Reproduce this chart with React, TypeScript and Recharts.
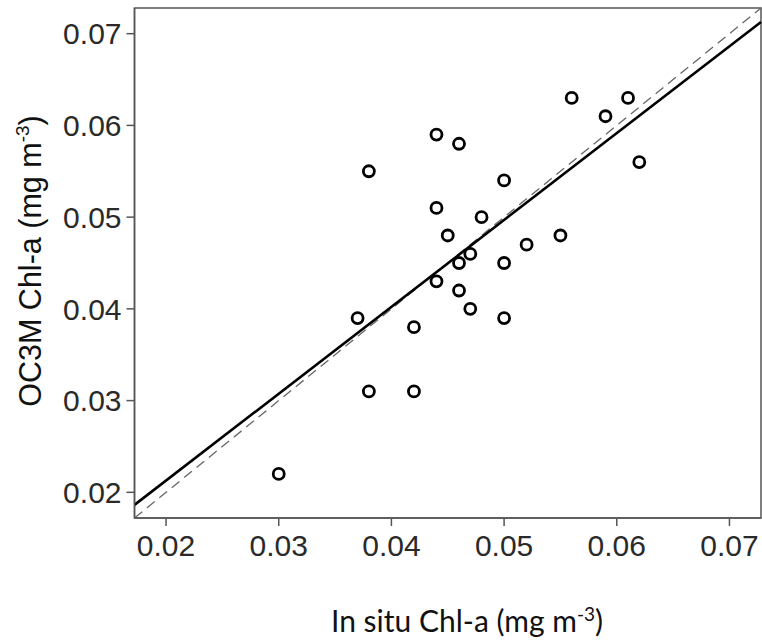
import {
  Label,
  ReferenceArea,
  ReferenceLine,
  Scatter,
  ScatterChart,
  XAxis,
  YAxis,
} from "recharts";

// in situ vs OC3M chlorophyll-a (mg m-3)
const inSitu = [
  0.03, 0.037, 0.038, 0.038, 0.042, 0.042, 0.044, 0.044, 0.044, 0.045, 0.046, 0.046, 0.046,
  0.047, 0.047, 0.048, 0.05, 0.05, 0.05, 0.052, 0.055, 0.056, 0.059, 0.061, 0.062,
];
const oc3m = [
  0.022, 0.039, 0.031, 0.055, 0.038, 0.031, 0.059, 0.051, 0.043, 0.048, 0.058, 0.045, 0.042,
  0.046, 0.04, 0.05, 0.054, 0.045, 0.039, 0.047, 0.048, 0.063, 0.061, 0.063, 0.056,
];
const ticks = [0.02, 0.03, 0.04, 0.05, 0.06, 0.07];
const domainMin = 0.0172;
const domainMax = 0.0728;
const fitSlope = 0.947;
const fitIntercept = 0.00234;

const points = inSitu.map((x, i) => ({ x, y: oc3m[i] }));
const fit = (x: number) => fitIntercept + fitSlope * x;

const tickStyle = { fontFamily: "Liberation Sans, Arial, sans-serif", fontSize: 30, fill: "#2a2a2a" };

export default function App() {
  return (
    <div style={{ position: "absolute", left: 0, top: 0 }}>
      <ScatterChart width={762} height={641} margin={{ top: 8, right: 1, left: 0, bottom: 0 }}>
        <XAxis
          type="number"
          dataKey="x"
          domain={[domainMin, domainMax]}
          ticks={ticks}
          tickFormatter={(v) => v.toFixed(2)}
          tick={tickStyle}
          tickSize={8}
          tickMargin={9}
          height={123}
          stroke="#555"
          strokeWidth={1.5}
          allowDataOverflow
        >
          <Label
            content={() => (
              <text
                x={467}
                y={632}
                textAnchor="middle"
                style={{ fontFamily: "Lato, sans-serif", fontSize: 30, fill: "#111" }}
              >
                In situ Chl-a (mg m
                <tspan dy={-11} fontSize={19}>-3</tspan>
                <tspan dy={11}>)</tspan>
              </text>
            )}
          />
        </XAxis>
        <YAxis
          type="number"
          dataKey="y"
          domain={[domainMin, domainMax]}
          ticks={ticks}
          tickFormatter={(v) => v.toFixed(2)}
          tick={tickStyle}
          tickSize={8}
          tickMargin={5}
          width={134.5}
          stroke="#555"
          strokeWidth={1.5}
          allowDataOverflow
        >
          <Label
            content={() => (
              <text
                x={41}
                y={261}
                transform="rotate(-90 41 261)"
                textAnchor="middle"
                style={{ fontFamily: "Liberation Sans, Arial, sans-serif", fontSize: 30.5, fill: "#111" }}
              >
                OC3M Chl-a (mg m
                <tspan dy={-12} fontSize={19}>-3</tspan>
                <tspan dy={12}>)</tspan>
              </text>
            )}
          />
        </YAxis>
        <ReferenceArea
          x1={domainMin}
          x2={domainMax}
          y1={domainMin}
          y2={domainMax}
          fill="none"
          stroke="#555"
          strokeWidth={1.5}
        />
        <ReferenceLine
          segment={[
            { x: domainMin, y: domainMin },
            { x: domainMax, y: domainMax },
          ]}
          stroke="#666"
          strokeWidth={1.3}
          strokeDasharray="10 6"
        />
        <ReferenceLine
          segment={[
            { x: domainMin, y: fit(domainMin) },
            { x: domainMax, y: fit(domainMax) },
          ]}
          stroke="#000"
          strokeWidth={2.6}
        />
        <Scatter
          data={points}
          isAnimationActive={false}
          shape={(props: any) => (
            <circle cx={props.cx} cy={props.cy} r={5.5} fill="none" stroke="#000" strokeWidth={2.8} />
          )}
        />
      </ScatterChart>
    </div>
  );
}
